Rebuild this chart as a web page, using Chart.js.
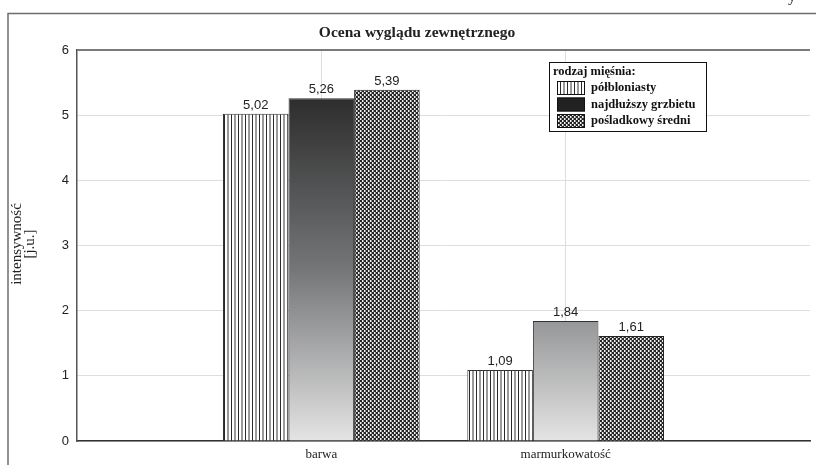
<!DOCTYPE html>
<html><head><meta charset="utf-8">
<script src="https://cdn.jsdelivr.net/npm/chart.js@4/dist/chart.umd.min.js"></script>
<style>html,body{margin:0;padding:0;background:#fff}#wrap{width:816px;height:465px}</style>
</head><body><div id="wrap"><canvas id="c" width="816" height="465"></canvas></div>
<script>
const categories = ['barwa', 'marmurkowatość'];
const seriesNames = ['półbloniasty', 'najdłuższy grzbietu', 'pośladkowy średni'];
const polbloniasty = [5.02, 1.09];
const najdluzszy = [5.26, 1.84];
const posladkowy = [5.39, 1.61];
const yTicks = [0, 1, 2, 3, 4, 5, 6];
const titleText = 'Ocena wyglądu zewnętrznego';
const yTitle = ['intensywność', '[j.u.]'];
const legendTitle = 'rodzaj mięśnia:';

const SERIF = '"Liberation Serif", "Times New Roman", serif';
const SANS = '"Liberation Sans", Arial, sans-serif';

// padded axis: empty slot at each side (like the original 0..3 axis)
const labels = ['', ...categories, ''];
const pad = arr => [null, ...arr, null];

function makeStripe() {
  const c = document.createElement('canvas'); c.width = 7; c.height = 4;
  const x = c.getContext('2d');
  x.fillStyle = '#fff'; x.fillRect(0, 0, 7, 4);
  x.fillStyle = '#2a2a2a'; x.fillRect(0, 0, 1, 4);
  x.fillStyle = '#9a9a9a'; x.fillRect(3, 0, 2, 4);
  return x.createPattern(c, 'repeat');
}
function makeCheck() {
  const c = document.createElement('canvas'); c.width = 4; c.height = 4;
  const x = c.getContext('2d');
  x.fillStyle = '#f2f2f2'; x.fillRect(0, 0, 4, 4);
  x.fillStyle = '#262626'; x.fillRect(0, 0, 2, 2); x.fillRect(2, 2, 2, 2);
  x.fillStyle = '#8a8a8a'; x.fillRect(1, 2, 1, 2); x.fillRect(3, 0, 1, 2);
  return x.createPattern(c, 'repeat');
}
const stripe = makeStripe();
const check = makeCheck();

function gradFill(ctx) {
  const chart = ctx.chart;
  if (!chart.chartArea) return '#555';
  const y = chart.scales.y;
  const g = chart.ctx.createLinearGradient(0, y.getPixelForValue(5.3), 0, y.getPixelForValue(0));
  g.addColorStop(0, '#2c2c2c');
  g.addColorStop(0.5, '#747577');
  g.addColorStop(1, '#e4e4e4');
  return g;
}

const swatches = [stripe, '#222222', check];

const decor = {
  id: 'decor',
  beforeDraw(chart) {
    const c = chart.ctx;
    c.save();
    c.fillStyle = '#fff'; c.fillRect(0, 0, chart.width, chart.height);
    c.strokeStyle = '#6e6e6e'; c.lineWidth = 1.5;
    c.beginPath(); c.moveTo(8, 465); c.lineTo(8, 13.5); c.lineTo(816, 13.5); c.stroke();
    // clipped character at top-right from page above
    c.fillStyle = '#222'; c.font = '16px ' + SERIF; c.textAlign = 'left'; c.textBaseline = 'alphabetic';
    c.fillText('y', 788, 1);
    // title
    c.font = 'bold 15.5px ' + SERIF; c.textAlign = 'center'; c.textBaseline = 'middle';
    c.fillText(titleText, 417, 33);
    // y axis title
    c.save();
    c.translate(17, 244); c.rotate(-Math.PI / 2);
    c.font = '15px ' + SERIF; c.fillStyle = '#222';
    c.fillText(yTitle[0], 0, 0);
    c.fillText(yTitle[1], 0, 13);
    c.restore();
    c.restore();
  },
  afterDatasetsDraw(chart) {
    const c = chart.ctx;
    c.save();
    // value labels
    c.font = '13px ' + SANS; c.fillStyle = '#222'; c.textAlign = 'center'; c.textBaseline = 'bottom';
    chart.data.datasets.forEach((ds, i) => {
      const meta = chart.getDatasetMeta(i);
      meta.data.forEach((bar, j) => {
        const v = ds.data[j];
        if (v == null) return;
        c.fillText(v.toFixed(2).replace('.', ','), bar.x, bar.y - 2);
      });
    });
    // top border of plot
    const a = chart.chartArea;
    c.strokeStyle = '#7a7a7a'; c.lineWidth = 2;
    c.beginPath(); c.moveTo(a.left, a.top); c.lineTo(a.right, a.top); c.stroke();
    // legend
    const lx = 549, ly = 62, lw = 157, lh = 69;
    c.fillStyle = '#fff'; c.fillRect(lx, ly, lw, lh);
    c.strokeStyle = '#111'; c.lineWidth = 1;
    c.strokeRect(lx + 0.5, ly + 0.5, lw, lh);
    c.fillStyle = '#111'; c.textAlign = 'left'; c.textBaseline = 'middle';
    c.font = 'bold 12.5px ' + SERIF;
    c.fillText(legendTitle, lx + 4, ly + 10);
    seriesNames.forEach((n, i) => {
      const yy = ly + 26 + i * 16.5;
      c.fillStyle = swatches[i];
      c.fillRect(lx + 8, yy - 7, 28, 14);
      c.strokeStyle = '#111'; c.strokeRect(lx + 8.5, yy - 6.5, 27, 13);
      c.fillStyle = '#111';
      c.fillText(n, lx + 42, yy);
    });
    c.restore();
  }
};

new Chart(document.getElementById('c'), {
  type: 'bar',
  data: {
    labels: labels,
    datasets: [
      { label: seriesNames[0], data: pad(polbloniasty), backgroundColor: stripe, borderColor: '#333', borderWidth: 1 },
      { label: seriesNames[1], data: pad(najdluzszy), backgroundColor: gradFill, borderColor: '#333', borderWidth: 1 },
      { label: seriesNames[2], data: pad(posladkowy), backgroundColor: check, borderColor: '#222', borderWidth: 1 }
    ]
  },
  plugins: [decor],
  options: {
    responsive: false,
    animation: false,
    devicePixelRatio: 1,
    categoryPercentage: 0.805,
    barPercentage: 1,
    layout: { padding: { top: 50, right: 1, left: 0, bottom: 0 } },
    plugins: { legend: { display: false }, title: { display: false }, tooltip: { enabled: false } },
    scales: {
      x: {
        type: 'category',
        offset: false,
        afterFit: s => { s.height = 24; },
        grid: {
          offset: false, drawTicks: false,
          color: ctx => (ctx.index === 0 || ctx.index === labels.length - 1) ? 'rgba(0,0,0,0)' : '#dedede'
        },
        border: { color: '#333', width: 1.5 },
        ticks: { padding: 6, font: { family: SERIF, size: 13 }, color: '#222', autoSkip: false, maxRotation: 0 }
      },
      y: {
        min: 0, max: 6,
        afterFit: s => { s.width = 77; },
        afterBuildTicks: s => { s.ticks = yTicks.map(v => ({ value: v })); },
        grid: { drawTicks: false, color: '#dedede' },
        border: { color: '#555', width: 1.5 },
        ticks: { padding: 8, font: { family: SANS, size: 13 }, color: '#222' }
      }
    }
  }
});
</script>
</body></html>
